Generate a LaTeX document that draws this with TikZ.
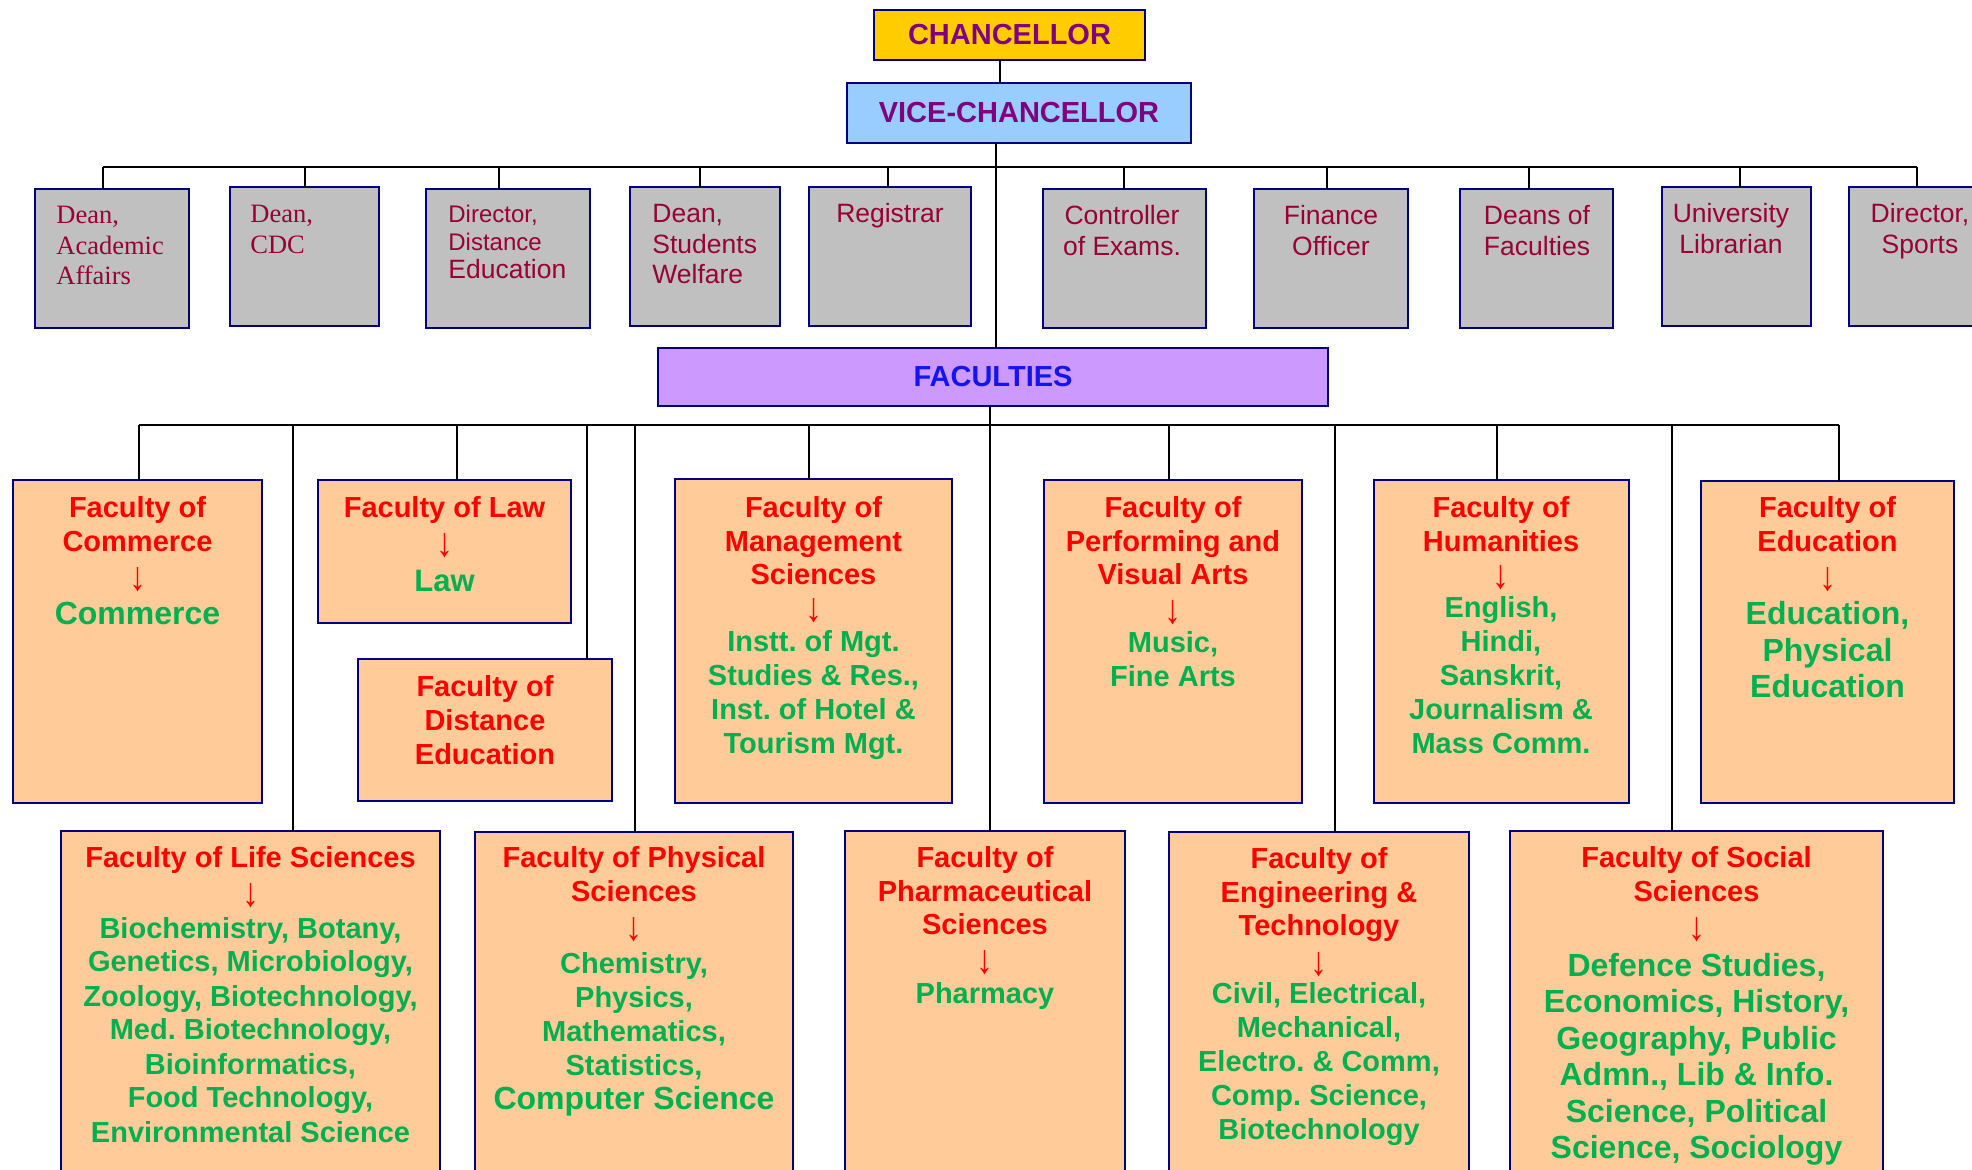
\documentclass[tikz,border=0pt]{standalone}
\usepackage{fontspec}
\usepackage{graphicx}
\setmainfont{Liberation Sans}
\newfontfamily\tms{Liberation Serif}
\frenchspacing
\definecolor{navyb}{RGB}{0,0,128}
\definecolor{grayf}{RGB}{192,192,192}
\definecolor{maroont}{RGB}{153,0,51}
\definecolor{orangef}{RGB}{255,204,153}
\definecolor{redt}{RGB}{255,0,0}
\definecolor{greent}{RGB}{0,176,80}
\definecolor{purplet}{RGB}{128,0,128}
\definecolor{chancf}{RGB}{255,204,0}
\definecolor{vcf}{RGB}{153,204,255}
\definecolor{facf}{RGB}{204,153,255}
\definecolor{bluet}{RGB}{20,20,240}
\newcommand{\ctr}[3]{\parbox[t]{230pt}{\centering\fontsize{#1}{#2}\selectfont #3}}
\newcommand{\lft}[3]{\parbox[t]{100pt}{\raggedright\fontsize{#1}{#2}\selectfont #3}}
\newcommand{\bx}[6]{\node[#1, minimum width={(#5-#3)*0.5pt}, minimum height={(#6-#4)*0.5pt}] (#2) at (#3,#4) {};}
\newcommand{\darr}{\scalebox{1}[1.2]{↓}}
\begin{document}
\begin{tikzpicture}[x=0.5pt,y=-0.5pt,
  boxbase/.style={draw=navyb, line width=1pt, inner sep=0pt, outer sep=0pt, anchor=north west},
  gbox/.style={boxbase, fill=grayf},
  obox/.style={boxbase, fill=orangef},
  conn/.style={draw=black, line width=0.75pt},
  topbar/.style={draw=black, line width=1.2pt},
  toptxt/.style={inner sep=0pt, text=maroont},
  ttl/.style={anchor=base, inner sep=0pt, text=redt, font=\bfseries},
  body/.style={anchor=base, inner sep=0pt, text=greent, font=\bfseries},
  arr/.style={anchor=north, inner sep=0pt, text=redt, font=\fontsize{17}{19}\selectfont},
  headtxt/.style={font=\bfseries\fontsize{14.5}{17}\selectfont}
]
\useasboundingbox (0,0) rectangle (1972,1170);
\clip (0,0) rectangle (1972,1170);

% ---------- connector coordinates ----------
\coordinate (cv) at (1000,0);
\coordinate (vx) at (996,0);
\coordinate (fx) at (990,0);
\coordinate (tbl) at (103,167);
\coordinate (tbr) at (1917,167);
\coordinate (fbl) at (139,425);
\coordinate (fbr) at (1839,425);

% ---------- head boxes ----------
\node[boxbase, fill=chancf, minimum width=135.5pt, minimum height=25pt, headtxt, text=purplet] (ch) at (874,10) {CHANCELLOR};
\node[boxbase, fill=vcf, minimum width=172pt, minimum height=30pt, headtxt, text=purplet] (vc) at (847,83) {VICE-CHANCELLOR};
\node[boxbase, fill=facf, minimum width=335pt, minimum height=29pt, headtxt, text=bluet] (fac) at (658,348) {FACULTIES};

% ---------- top row boxes ----------
\bx{gbox}{d1}{35}{189}{189}{328}
\bx{gbox}{d2}{230}{187}{379}{326}
\bx{gbox}{d3}{426}{189}{590}{328}
\bx{gbox}{d4}{630}{187}{780}{326}
\bx{gbox}{d5}{809}{187}{971}{326}
\bx{gbox}{d6}{1043}{189}{1206}{328}
\bx{gbox}{d7}{1254}{189}{1408}{328}
\bx{gbox}{d8}{1460}{189}{1613}{328}
\bx{gbox}{d9}{1662}{187}{1811}{326}
\bx{gbox}{d10}{1849}{187}{2000}{326}

% ---------- faculty boxes ----------
\bx{obox}{f1}{13}{480}{262}{803}
\bx{obox}{f2}{318}{480}{571}{623}
\bx{obox}{f3}{358}{659}{612}{801}
\bx{obox}{f4}{675}{479}{952}{803}
\bx{obox}{f5}{1044}{480}{1302}{803}
\bx{obox}{f6}{1374}{480}{1629}{803}
\bx{obox}{f7}{1701}{481}{1954}{803}
\bx{obox}{g1}{61}{831}{440}{1200}
\bx{obox}{g2}{475}{832}{793}{1200}
\bx{obox}{g3}{845}{831}{1125}{1200}
\bx{obox}{g4}{1169}{832}{1469}{1200}
\bx{obox}{g5}{1510}{831}{1883}{1200}

% ---------- lines ----------
\draw[conn] (cv |- ch.south) -- (cv |- vc.north);
\draw[conn] (vx |- vc.south) -- (vx |- fac.north);
\draw[topbar] (tbl) -- (tbr);
\foreach \x/\n in {103/d1,305/d2,499/d3,700/d4,888/d5,1124/d6,1327/d7,1529/d8,1740/d9,1917/d10}
  \draw[conn] (\x,167) -- (\x,0 |- \n.north);
\draw[conn] (fbl) -- (fbr);
\draw[conn] (fx |- fac.south) -- (fx |- g3.north);
\foreach \x/\n in {139/f1,293/g1,457/f2,587/f3,635/g2,809/f4,1169/f5,1335/g4,1497/f6,1672/g5,1839/f7}
  \draw[conn] (\x,425) -- (\x,0 |- \n.north);

% ---------- top row texts ----------
\node[toptxt, anchor=base west] (t1) at (56,224) {\lft{13.25}{15.25}{\tms Dean,\\Academic\\Affairs}};
\node[toptxt, anchor=base west] (t2) at (250,223) {\lft{13.25}{15.25}{\tms Dean,\\CDC}};
\node[toptxt, anchor=base west] (t3) at (448,223) {\lft{12}{14}{Director,\\Distance\\{\fontsize{13.25}{14}\selectfont Education}}};
\node[toptxt, anchor=base west] (t4) at (652,223) {\lft{13.25}{15.25}{Dean,\\Students\\Welfare}};
\node[toptxt, anchor=base] (t5) at (890,223) {\ctr{13.25}{15.5}{Registrar}};
\node[toptxt, anchor=base] (t6) at (1122,225) {\ctr{13.25}{15.5}{Controller\\of Exams.}};
\node[toptxt, anchor=base] (t7) at (1331,225) {\ctr{13.25}{15.5}{Finance\\Officer}};
\node[toptxt, anchor=base] (t8) at (1537,225) {\ctr{13.25}{15.5}{Deans of\\Faculties}};
\node[toptxt, anchor=base] (t9) at (1731,223) {\ctr{13.25}{15.5}{University\\Librarian}};
\node[toptxt, anchor=base] (t10) at (1920,223) {\ctr{13.25}{15.5}{Director,\\Sports}};

% ---------- faculty texts, row 1 ----------
\node[ttl] (f1t) at (137.5,518) {\ctr{14.5}{16.75}{Faculty of\\Commerce}};
\node[arr] (f1a) at (137.5,567) {\darr};
\node[body] (f1b) at (137.5,625) {\ctr{16}{18}{Commerce}};

\node[ttl] (f2t) at (444.5,518) {\ctr{14.5}{16.75}{Faculty of Law}};
\node[arr] (f2a) at (444.5,533) {\darr};
\node[body] (f2b) at (444.5,592) {\ctr{15.5}{18}{Law}};

\node[ttl] (f3t) at (485,697) {\ctr{14.5}{17}{Faculty of\\Distance\\Education}};

\node[ttl] (f4t) at (813.5,518) {\ctr{14.5}{16.75}{Faculty of\\Management\\Sciences}};
\node[arr] (f4a) at (813.5,598) {\darr};
\node[body] (f4b) at (813.5,652) {\ctr{14.5}{16.9}{Instt. of Mgt.\\Studies \& Res.,\\Inst. of Hotel \&\\Tourism Mgt.}};

\node[ttl] (f5t) at (1173,518) {\ctr{14.5}{16.75}{Faculty of\\Performing and\\Visual Arts}};
\node[arr] (f5a) at (1173,600) {\darr};
\node[body] (f5b) at (1173,653) {\ctr{14.5}{17}{Music,\\Fine Arts}};

\node[ttl] (f6t) at (1501,518) {\ctr{14.5}{16.75}{Faculty of\\Humanities}};
\node[arr] (f6a) at (1501,565) {\darr};
\node[body] (f6b) at (1501,618) {\ctr{14.5}{16.9}{English,\\Hindi,\\Sanskrit,\\Journalism \&\\Mass Comm.}};

\node[ttl] (f7t) at (1827.5,518) {\ctr{14.5}{16.75}{Faculty of\\Education}};
\node[arr] (f7a) at (1827.5,567) {\darr};
\node[body] (f7b) at (1827.5,625) {\ctr{16}{18.25}{Education,\\Physical\\Education}};

% ---------- faculty texts, row 2 ----------
\node[ttl] (g1t) at (250.5,868) {\ctr{14.5}{17}{Faculty of Life Sciences}};
\node[arr] (g1a) at (250.5,883) {\darr};
\node[body] (g1b) at (250.5,938) {\ctr{14.5}{17}{Biochemistry, Botany,\\Genetics, Microbiology,\\Zoology, Biotechnology,\\Med. Biotechnology,\\Bioinformatics,\\Food Technology,\\Environmental Science}};

\node[ttl] (g2t) at (634,868) {\ctr{14.5}{17}{Faculty of Physical\\Sciences}};
\node[arr] (g2a) at (634,917) {\darr};
\node[body] (g2b) at (634,973) {\ctr{14.5}{17.1}{Chemistry,\\Physics,\\Mathematics,\\Statistics,\\{\fontsize{16}{17}\selectfont Computer Science}}};

\node[ttl] (g3t) at (985,868) {\ctr{14.5}{16.75}{Faculty of\\Pharmaceutical\\Sciences}};
\node[arr] (g3a) at (985,950) {\darr};
\node[body] (g3b) at (985,1003) {\ctr{14.5}{17}{Pharmacy}};

\node[ttl] (g4t) at (1319,869) {\ctr{14.5}{16.75}{Faculty of\\Engineering \&\\Technology}};
\node[arr] (g4a) at (1319,952) {\darr};
\node[body] (g4b) at (1319,1003) {\ctr{14.5}{17}{Civil, Electrical,\\Mechanical,\\Electro. \& Comm,\\Comp. Science,\\Biotechnology}};

\node[ttl] (g5t) at (1696.5,868) {\ctr{14.5}{17}{Faculty of Social\\Sciences}};
\node[arr] (g5a) at (1696.5,917) {\darr};
\node[body] (g5b) at (1696.5,976) {\ctr{16}{18.3}{Defence Studies,\\Economics, History,\\Geography, Public\\Admn., Lib \& Info.\\Science, Political\\Science, Sociology}};
\end{tikzpicture}
\end{document}
